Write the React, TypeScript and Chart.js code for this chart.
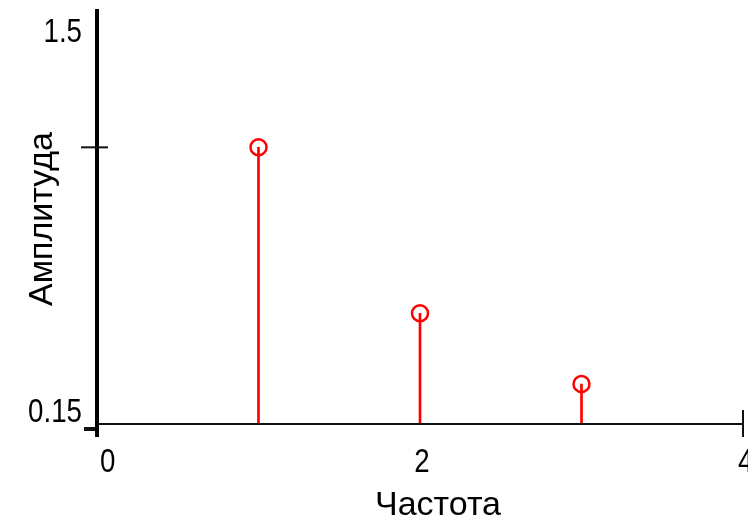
import React, { useEffect, useRef } from "react";
import { Chart, registerables } from "chart.js";

Chart.register(...registerables);

const frequencies = [1, 2, 3];
const amplitudes = [1.05, 0.51, 0.28];
const xLimits = [0, 4];
const yLimits = [0.15, 1.5];
const xTickValues = [0, 2, 4];
const xTickLabels = ["0", "2", "4"];
const yTickValues = [0.15, 1.5];
const yTickLabels = ["0.15", "1.5"];
const yMarkValues = [1.05];
const xTitle = "Частота";
const yTitle = "Амплитуда";

const FONT = '34px "Liberation Sans", Arial, sans-serif';
const TICK_FONT = '33px "Liberation Sans", Arial, sans-serif';
const NARROW = 0.84;

function narrowText(ctx: any, text: string, x: number, y: number, align: string) {
  ctx.save();
  ctx.translate(x, y);
  ctx.scale(NARROW, 1);
  ctx.textAlign = align;
  ctx.fillText(text, 0, 0);
  ctx.restore();
}

const axesPlugin = {
  id: "mathcadAxes",
  afterDatasetsDraw(chart: any) {
    const ctx = chart.ctx;
    const xs = chart.scales.x;
    const ys = chart.scales.y;
    const x0 = xs.getPixelForValue(xLimits[0]);
    const xr = xs.getPixelForValue(xLimits[1]);
    const yb = ys.getPixelForValue(yLimits[0]);
    const yt = ys.getPixelForValue(yLimits[1]);
    ctx.save();
    ctx.fillStyle = "#000";
    // y axis
    ctx.fillRect(x0 - 2, yt, 4, yb + 13 - yt);
    // x axis
    ctx.fillStyle = "#111";
    ctx.fillRect(x0, yb - 1, xr - x0, 2);
    // x end tick
    ctx.fillRect(xr - 1, yb - 14, 2, 27);
    // y marker ticks
    yMarkValues.forEach((v) => {
      const p = ys.getPixelForValue(v);
      ctx.fillRect(x0 - 16, p - 1, 27, 2);
    });
    // small mark at lower limit
    ctx.fillRect(x0 - 13, yb + 3, 11, 4);

    // y tick labels
    ctx.fillStyle = "#000";
    ctx.font = TICK_FONT;
    ctx.textBaseline = "middle";
    yTickValues.forEach((v, i) => {
      const p = ys.getPixelForValue(v);
      const yy = i === 0 ? p - 11 : p + 24;
      narrowText(ctx, yTickLabels[i], x0 - 15, yy, "right");
    });
    // x tick labels
    xTickValues.forEach((v, i) => {
      const p = xs.getPixelForValue(v);
      if (i === 0) {
        narrowText(ctx, xTickLabels[i], p + 3, yb + 39, "left");
      } else if (i === xTickValues.length - 1) {
        narrowText(ctx, xTickLabels[i], p - 5, yb + 39, "left");
      } else {
        narrowText(ctx, xTickLabels[i], p + 2, yb + 39, "center");
      }
    });
    // titles
    ctx.font = FONT;
    ctx.textAlign = "center";
    ctx.textBaseline = "alphabetic";
    ctx.fillText(xTitle, (x0 + xr) / 2 + 18, yb + 91);
    ctx.translate(52, 219);
    ctx.rotate(-Math.PI / 2);
    ctx.fillText(yTitle, 0, 0);
    ctx.restore();
  },
};

export default function App() {
  const ref = useRef<HTMLCanvasElement | null>(null);
  useEffect(() => {
    if (!ref.current) return;
    const chart = new Chart(ref.current, {
      type: "bar",
      data: {
        datasets: [
          {
            type: "bar",
            data: frequencies.map((f, i) => ({ x: f, y: [yLimits[0], amplitudes[i]] })) as any,
            backgroundColor: "#ff0000",
            barThickness: 2,
            grouped: false,
          } as any,
          {
            type: "scatter",
            data: frequencies.map((f, i) => ({ x: f, y: amplitudes[i] })),
            pointRadius: 8,
            pointBorderWidth: 2.5,
            borderColor: "#ff0000",
            backgroundColor: "rgba(0,0,0,0)",
            pointBackgroundColor: "rgba(0,0,0,0)",
            showLine: false,
            clip: false,
          } as any,
        ],
      },
      options: {
        responsive: false,
        animation: false,
        devicePixelRatio: 1,
        layout: { autoPadding: false, padding: { left: 97, top: 9, right: 5, bottom: 92 } },
        plugins: { legend: { display: false }, tooltip: { enabled: false } },
        scales: {
          x: { type: "linear", min: xLimits[0], max: xLimits[1], display: false, offset: false },
          y: { type: "linear", min: yLimits[0], max: yLimits[1], display: false },
        },
      },
      plugins: [axesPlugin],
    });
    return () => chart.destroy();
  }, []);
  return (
    <div style={{ position: "absolute", left: 0, top: 0, width: 748, height: 516, background: "#fff" }}>
      <canvas ref={ref} width={748} height={516} />
    </div>
  );
}
